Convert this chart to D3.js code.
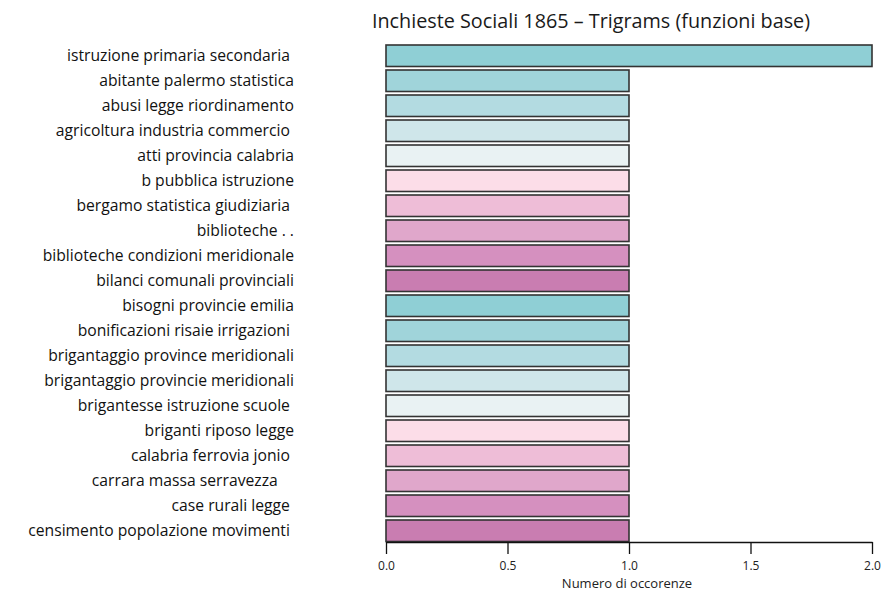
<!DOCTYPE html>
<html>
<head>
<meta charset="utf-8">
<script src="https://cdn.jsdelivr.net/npm/d3@7"></script>
<style>
  body { margin: 0; background: #fff; }
  svg { font-family: "Open Sans", sans-serif; }
  .label { white-space: pre; }
</style>
</head>
<body>
<div id="chart"></div>
<script>
// trigram labels (trailing spaces kept as in the original)
const trigrams = [
    "istruzione primaria secondaria ",
    "abitante palermo statistica",
    "abusi legge riordinamento",
    "agricoltura industria commercio ",
    "atti provincia calabria",
    "b pubblica istruzione",
    "bergamo statistica giudiziaria ",
    "biblioteche . .",
    "biblioteche condizioni meridionale",
    "bilanci comunali provinciali",
    "bisogni provincie emilia",
    "bonificazioni risaie irrigazioni ",
    "brigantaggio province meridionali",
    "brigantaggio provincie meridionali",
    "brigantesse istruzione scuole ",
    "briganti riposo legge",
    "calabria ferrovia jonio ",
    "carrara massa serravezza    ",
    "case rurali legge ",
    "censimento popolazione movimenti "
];
const counts = [2, 1, 1, 1, 1, 1, 1, 1, 1, 1, 1, 1, 1, 1, 1, 1, 1, 1, 1, 1];
const palette = ["#8fcfd5", "#a0d4da", "#b3dbe1", "#cfe6ea", "#e9f2f3",
                 "#fcdde8", "#eebdd7", "#e0a7cb", "#d590bf", "#c97db1"];
const xTicks = [0, 0.5, 1, 1.5, 2];

const W = 886, H = 592;
const svg = d3.select("#chart").append("svg")
    .attr("width", W).attr("height", H);

const x = d3.scaleLinear().domain([0, 2]).range([386, 872]);
const y = d3.scaleBand().domain(d3.range(trigrams.length))
    .range([44.5, 542]).paddingInner(0.14).paddingOuter(0.02);

// title
svg.append("text")
    .attr("x", 591).attr("y", 28)
    .attr("text-anchor", "middle")
    .attr("font-size", 19.8)
    .attr("fill", "#1a1a1a")
    .text("Inchieste Sociali 1865 \u2013 Trigrams (funzioni base)");

// bars
svg.append("g").selectAll("rect")
    .data(counts)
    .enter().append("rect")
    .attr("x", x(0))
    .attr("y", (d, i) => y(i))
    .attr("width", d => x(d) - x(0))
    .attr("height", y.bandwidth())
    .attr("fill", (d, i) => palette[i % palette.length])
    .attr("stroke", "#333")
    .attr("stroke-width", 1.6);

// labels
svg.append("g").selectAll("text")
    .data(trigrams)
    .enter().append("text")
    .attr("class", "label")
    .attr("x", 294)
    .attr("y", (d, i) => y(i) + y.bandwidth() / 2)
    .attr("dy", "0.35em")
    .attr("text-anchor", "end")
    .attr("font-size", 15.7)
    .attr("fill", "#111")
    .text(d => d);

// x axis
const axis = svg.append("g")
    .attr("transform", `translate(0,${y.range()[1]})`)
    .call(d3.axisBottom(x).tickValues(xTicks).tickFormat(d3.format(".1f")).tickSize(12).tickSizeOuter(0));
axis.select(".domain").attr("stroke", "#111").attr("stroke-width", 1.3);
axis.selectAll(".tick line").attr("stroke", "#111").attr("stroke-width", 1.3);
axis.selectAll(".tick text")
    .attr("font-family", "'Open Sans', sans-serif")
    .attr("font-size", 12)
    .attr("fill", "#222")
    .attr("y", 19);

svg.append("text")
    .attr("x", 627).attr("y", 588)
    .attr("text-anchor", "middle")
    .attr("font-size", 13)
    .attr("fill", "#222")
    .text("Numero di occorenze");
</script>
</body>
</html>
